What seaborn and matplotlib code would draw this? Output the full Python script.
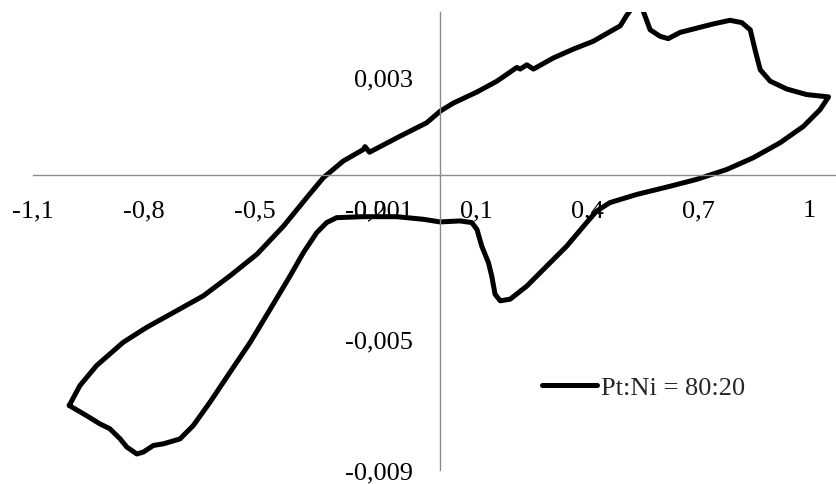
import matplotlib
matplotlib.use("Agg")
import matplotlib.pyplot as plt
import seaborn as sns
import pandas as pd

# Cyclic voltammogram, Pt:Ni = 80:20 (potential in V, current in A)
potential = [
    -1.003, -0.974, -0.929, -0.857, -0.793, -0.721, -0.640, -0.568, -0.495, -0.423,
    -0.360, -0.315, -0.261, -0.207, -0.202, -0.190, -0.107, -0.035, 0.001, 0.037,
    0.101, 0.155, 0.200, 0.209, 0.218, 0.236, 0.254, 0.308, 0.362, 0.416,
    0.470, 0.489, 0.507, 0.525, 0.548, 0.570, 0.597, 0.619, 0.651, 0.696,
    0.741, 0.786, 0.818, 0.841, 0.854, 0.868, 0.895, 0.940, 0.994, 1.053,
    1.030, 0.985, 0.922, 0.849, 0.777, 0.696, 0.624, 0.534, 0.461, 0.425,
    0.398, 0.344, 0.290, 0.236, 0.191, 0.164, 0.150, 0.141, 0.132, 0.114,
    0.101, 0.087, 0.055, 0.001, -0.044, -0.116, -0.207, -0.279, -0.306, -0.333,
    -0.369, -0.405, -0.459, -0.513, -0.568, -0.622, -0.667, -0.703, -0.748, -0.775,
    -0.802, -0.820, -0.847, -0.865, -0.893, -0.920, -0.956, -1.003,
]
current = [
    -7.03e-3, -6.42e-3, -5.81e-3, -5.10e-3, -4.64e-3, -4.19e-3, -3.68e-3, -3.07e-3, -2.41e-3, -1.55e-3,
    -0.68e-3, -0.07e-3, 0.44e-3, 0.79e-3, 0.88e-3, 0.71e-3, 1.20e-3, 1.61e-3, 1.96e-3, 2.21e-3,
    2.55e-3, 2.88e-3, 3.23e-3, 3.30e-3, 3.25e-3, 3.38e-3, 3.25e-3, 3.59e-3, 3.86e-3, 4.10e-3,
    4.45e-3, 4.57e-3, 4.90e-3, 5.18e-3, 5.12e-3, 4.45e-3, 4.25e-3, 4.18e-3, 4.37e-3, 4.50e-3,
    4.63e-3, 4.74e-3, 4.67e-3, 4.45e-3, 3.84e-3, 3.23e-3, 2.88e-3, 2.64e-3, 2.47e-3, 2.40e-3,
    2.01e-3, 1.50e-3, 1.00e-3, 0.54e-3, 0.18e-3, -0.12e-3, -0.33e-3, -0.58e-3, -0.83e-3, -1.09e-3,
    -1.44e-3, -2.16e-3, -2.77e-3, -3.38e-3, -3.78e-3, -3.83e-3, -3.63e-3, -3.07e-3, -2.66e-3, -2.16e-3,
    -1.65e-3, -1.44e-3, -1.39e-3, -1.42e-3, -1.34e-3, -1.26e-3, -1.26e-3, -1.29e-3, -1.44e-3, -1.75e-3,
    -2.36e-3, -3.07e-3, -4.09e-3, -5.10e-3, -6.02e-3, -6.93e-3, -7.64e-3, -8.05e-3, -8.20e-3, -8.25e-3,
    -8.45e-3, -8.51e-3, -8.30e-3, -8.05e-3, -7.74e-3, -7.59e-3, -7.34e-3, -7.03e-3,
]
series_label = "Pt:Ni = 80:20"

x_ticks = [-1.1, -0.8, -0.5, -0.2, 0.1, 0.4, 0.7, 1.0]
x_tick_labels = ["-1,1", "-0,8", "-0,5", "-0,2", "0,1", "0,4", "0,7", "1"]
y_ticks = [-0.009, -0.005, -0.001, 0.003]
y_tick_labels = ["-0,009", "-0,005", "-0,001", "0,003"]

sns.set_style("white")
plt.rcParams["font.family"] = ["Liberation Serif", "DejaVu Serif"]

W, H = 836, 485
fig = plt.figure(figsize=(W / 100, H / 100), dpi=100)
ax = fig.add_axes([33.4 / W, 14 / H, 812.5 / W, 458.2 / H])

df = pd.DataFrame({"E": potential, "I": current})
sns.lineplot(data=df, x="E", y="I", sort=False, estimator=None, color="black",
             linewidth=3.6, label=series_label, ax=ax,
             solid_capstyle="round", solid_joinstyle="round")

ax.set_xlim(-1.1, 1.1)
ax.set_ylim(-0.009, 0.005)

axis_grey = "#8c8c8c"
for side in ("top", "right"):
    ax.spines[side].set_visible(False)
ax.spines["left"].set_position(("data", 0))
ax.spines["bottom"].set_position(("data", 0))
for side in ("left", "bottom"):
    ax.spines[side].set_color(axis_grey)
    ax.spines[side].set_linewidth(1.0)

ax.set_xticks(x_ticks)
ax.set_xticklabels(x_tick_labels)
ax.set_yticks(y_ticks)
ax.set_yticklabels(y_tick_labels)
ax.tick_params(axis="x", direction="out", length=5, width=1.0, color=axis_grey,
               labelsize=19, pad=12, labelcolor="black")
ax.tick_params(axis="y", direction="out", length=5, width=1.0, color=axis_grey,
               labelsize=19, pad=14, labelcolor="black")
ax.set_xlabel("")
ax.set_ylabel("")
ax.grid(False)

ax.legend(loc="center left", bbox_to_anchor=(541.7 / W, 1 - 388.3 / H),
          bbox_transform=fig.transFigure, frameon=False, borderpad=0,
          borderaxespad=0, handlelength=2.1, handletextpad=0.15,
          prop={"family": ["Liberation Serif", "DejaVu Serif"], "size": 19})

fig.savefig("out.png", dpi=100)
